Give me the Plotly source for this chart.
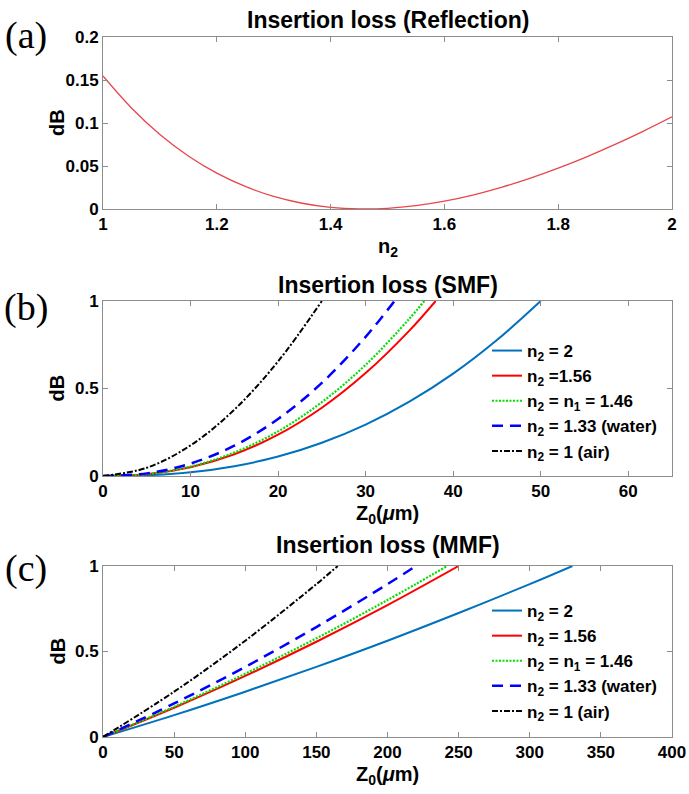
import plotly.graph_objects as go

W, H = 689, 794
FONT = "Liberation Sans"

# ---------------- (a) Reflection loss versus n2 ----------------
n2_values = [1.00, 1.05, 1.10, 1.15, 1.20, 1.25, 1.30, 1.35, 1.40, 1.45, 1.50,
             1.55, 1.60, 1.65, 1.70, 1.75, 1.80, 1.85, 1.90, 1.95, 2.00]
reflection_db = [0.1546, 0.1175, 0.0867, 0.0617, 0.0417, 0.0262, 0.0146, 0.0067,
                 0.0019, 0.0001, 0.0008, 0.0039, 0.0091, 0.0162, 0.0251, 0.0356,
                 0.0475, 0.0607, 0.0751, 0.0906, 0.1071]

# ---------------- (b) SMF insertion loss versus gap Z0 ----------------
smf_z = {
    "2":    [0, 5, 10, 15, 20, 25, 30, 35, 40, 45, 50],
    "1.56": [0, 5, 10, 15, 20, 25, 30, 35, 38],
    "1.46": [0, 5, 10, 15, 20, 25, 30, 35, 36.7],
    "1.33": [0, 5, 10, 15, 20, 25, 30, 33.3],
    "1":    [0, 5, 10, 15, 20, 25],
}
smf_db = {
    "2":    [0, 0.004, 0.021, 0.056, 0.111, 0.190, 0.294, 0.425, 0.585, 0.777, 1.0],
    "1.56": [0, 0.010, 0.050, 0.124, 0.236, 0.390, 0.588, 0.831, 1.0],
    "1.46": [0, 0.011, 0.054, 0.134, 0.255, 0.422, 0.635, 0.899, 1.0],
    "1.33": [0, 0.015, 0.071, 0.173, 0.326, 0.532, 0.795, 1.0],
    "1":    [0, 0.047, 0.175, 0.379, 0.655, 1.0],
}

# ---------------- (c) MMF insertion loss versus gap Z0 ----------------
mmf_z = {
    "2":    [0, 50, 100, 150, 200, 250, 300, 330],
    "1.56": [0, 50, 100, 150, 200, 250],
    "1.46": [0, 50, 100, 150, 200, 242],
    "1.33": [0, 50, 100, 150, 200, 220],
    "1":    [0, 50, 100, 150, 165],
}
mmf_db = {
    "2":    [0, 0.128, 0.265, 0.410, 0.563, 0.725, 0.894, 1.0],
    "1.56": [0, 0.171, 0.357, 0.557, 0.771, 1.0],
    "1.46": [0, 0.177, 0.370, 0.577, 0.801, 1.0],
    "1.33": [0, 0.196, 0.410, 0.643, 0.894, 1.0],
    "1":    [0, 0.265, 0.563, 0.894, 1.0],
}

series_keys = ["2", "1.56", "1.46", "1.33", "1"]
smf_labels = ["n<sub>2</sub> = 2", "n<sub>2</sub> =1.56", "n<sub>2</sub> = n<sub>1</sub> = 1.46",
              "n<sub>2</sub> = 1.33 (water)", "n<sub>2</sub> = 1 (air)"]
mmf_labels = ["n<sub>2</sub> = 2", "n<sub>2</sub> = 1.56", "n<sub>2</sub> = n<sub>1</sub> = 1.46",
              "n<sub>2</sub> = 1.33 (water)", "n<sub>2</sub> = 1 (air)"]

line_styles = {
    "2":    dict(color="#0072BD", width=2, dash="solid"),
    "1.56": dict(color="#FF0000", width=2, dash="solid"),
    "1.46": dict(color="#00E000", width=2.2, dash="2px,1.5px"),
    "1.33": dict(color="#0000FF", width=2.5, dash="11px,7px"),
    "1":    dict(color="#000000", width=2, dash="6px,2px,2px,2px"),
}


def px_x(x):
    return x / W


def px_y(y):
    return 1 - y / H


X_DOM = [px_x(103), px_x(672)]
PANELS = {  # top / bottom pixel rows of each plot area
    "a": (37, 209),
    "b": (301, 476),
    "c": (566, 737),
}
TITLE_GAP = {"a": 17, "b": 16, "c": 21}
LETTER_Y = {"a": 35, "b": 307, "c": 568}

fig = go.Figure()

fig.add_trace(go.Scatter(
    x=n2_values, y=reflection_db, mode="lines",
    line=dict(color="#E8464C", width=1.3, shape="spline"),
    showlegend=False, xaxis="x", yaxis="y",
))

for key, label in zip(series_keys, smf_labels):
    fig.add_trace(go.Scatter(
        x=smf_z[key], y=smf_db[key], mode="lines", name=label,
        line=dict(shape="spline", **line_styles[key]),
        xaxis="x2", yaxis="y2", legend="legend2",
    ))

for key, label in zip(series_keys, mmf_labels):
    fig.add_trace(go.Scatter(
        x=mmf_z[key], y=mmf_db[key], mode="lines", name=label,
        line=dict(shape="spline", **line_styles[key]),
        xaxis="x3", yaxis="y3", legend="legend3",
    ))

axis_common = dict(
    showline=True, linecolor="#8c8c8c", linewidth=1, mirror="ticks",
    ticks="inside", ticklen=5, tickcolor="#8c8c8c", tickwidth=1,
    showgrid=False, zeroline=False, automargin=False,
    tickfont=dict(family=FONT, size=17, color="black", weight="bold"),
)


def ydom(panel):
    top, bottom = PANELS[panel]
    return [px_y(bottom), px_y(top)]


legend_common = dict(
    xanchor="left", yanchor="top", bgcolor="rgba(0,0,0,0)",
    font=dict(family=FONT, size=17, color="black", weight="bold"),
    itemwidth=30, tracegroupgap=0,
)

fig.update_layout(
    width=W, height=H,
    margin=dict(l=0, r=0, t=0, b=0, autoexpand=False),
    paper_bgcolor="white", plot_bgcolor="white",
    showlegend=True,
    xaxis=dict(domain=X_DOM, anchor="y", range=[1, 2], tickvals=[1, 1.2, 1.4, 1.6, 1.8, 2],
               **axis_common),
    yaxis=dict(domain=ydom("a"), anchor="x", range=[0, 0.2],
               tickvals=[0, 0.05, 0.1, 0.15, 0.2], **axis_common),
    xaxis2=dict(domain=X_DOM, anchor="y2", range=[0, 65], tickvals=[0, 10, 20, 30, 40, 50, 60],
                **axis_common),
    yaxis2=dict(domain=ydom("b"), anchor="x2", range=[0, 1], tickvals=[0, 0.5, 1],
                **axis_common),
    xaxis3=dict(domain=X_DOM, anchor="y3", range=[0, 400],
                tickvals=[0, 50, 100, 150, 200, 250, 300, 350, 400], **axis_common),
    yaxis3=dict(domain=ydom("c"), anchor="x3", range=[0, 1], tickvals=[0, 0.5, 1],
                **axis_common),
    legend2=dict(x=px_x(487), y=px_y(333), **legend_common),
    legend3=dict(x=px_x(487), y=px_y(593), **legend_common),
)

titles = {"a": "Insertion loss (Reflection)", "b": "Insertion loss (SMF)", "c": "Insertion loss (MMF)"}
xlabels = {"a": "n<sub>2</sub>", "b": "Z<sub>0</sub>(<i>μ</i>m)", "c": "Z<sub>0</sub>(<i>μ</i>m)"}
x_center = (103 + 672) / 2

for panel, (top, bottom) in PANELS.items():
    # panel title
    fig.add_annotation(x=px_x(x_center), y=px_y(top - TITLE_GAP[panel]), xref="paper", yref="paper",
                       text=titles[panel], showarrow=False, xanchor="center", yanchor="middle",
                       font=dict(family=FONT, size=23, color="black", weight="bold"))
    # x-axis label
    fig.add_annotation(x=px_x(x_center), y=px_y(bottom + 24), xref="paper", yref="paper",
                       text=xlabels[panel], showarrow=False, xanchor="center", yanchor="top",
                       font=dict(family=FONT, size=20, color="black", weight="bold"))
    # y-axis label
    fig.add_annotation(x=px_x(57), y=px_y((top + bottom) / 2), xref="paper", yref="paper",
                       text="dB", showarrow=False, textangle=-90,
                       xanchor="center", yanchor="middle",
                       font=dict(family=FONT, size=20, color="black", weight="bold"))
    # panel letter
    fig.add_annotation(x=px_x(26), y=px_y(LETTER_Y[panel]), xref="paper", yref="paper",
                       text=f"({panel})", showarrow=False, xanchor="center", yanchor="middle",
                       font=dict(family="Liberation Serif", size=38, color="black"))

fig.write_html("out.html")
